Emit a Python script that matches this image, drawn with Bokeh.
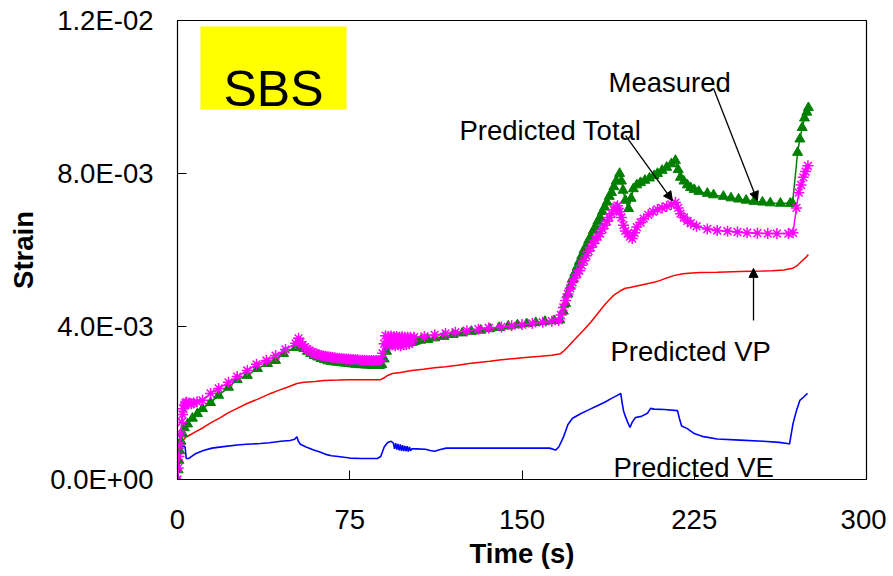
from bokeh.plotting import figure
from bokeh.models import (FixedTicker, CustomJSTickFormatter, Label, Arrow, NormalHead,
                          BoxAnnotation)
from bokeh.embed import file_html
from bokeh.resources import INLINE

# ---------------- data (time in s, strain) ----------------
measured_t = [0, 0.3, 0.6, 1.0, 1.5, 2.2, 3.0, 4.4, 6.5, 8.7, 10.9, 14.4, 17.9, 22.2, 26, 30.4,
              34.8, 39.2, 42.7, 46.2, 51.4, 52.5, 53.5, 55, 56.5, 58, 59.5, 61, 62.5, 64, 65.5,
              67, 68.5, 70, 71.5, 73, 74.5, 76, 77.5, 79, 80.5, 82, 83.5, 85, 86.5, 88, 89,
              90, 91, 92, 93, 94, 95, 96, 97, 98, 99, 100, 101, 102, 103, 104, 106, 109, 112,
              116, 120, 124, 128, 132, 136, 140, 144, 148, 152, 156, 160, 164, 166.5,
              168, 169, 170, 171, 172, 173, 174, 175, 176, 177, 178, 179, 180, 181, 182, 183,
              184, 185, 186, 187, 188, 189, 190, 191, 192.5, 193.3, 194, 195, 196.4, 197.5,
              198.5, 200, 201.6, 203.5, 205.5, 207.5, 209, 211, 213, 215, 216.8, 218, 219,
              220.5, 222, 223.4, 225, 227, 230.7, 233.4, 237.7, 241, 244.3, 247.6, 251,
              254.7, 258.1, 262.5, 266.8, 267.8, 270, 271, 272, 273, 274, 274.7]
measured_e = [0, 0.25, 0.5, 0.75, 1.0, 1.2, 1.35, 1.45, 1.6, 1.72, 1.85, 2.01, 2.20, 2.41, 2.61,
              2.72, 2.90, 3.03, 3.11, 3.29, 3.45, 3.55, 3.5, 3.42, 3.35, 3.29, 3.24, 3.2, 3.16,
              3.13, 3.1, 3.08, 3.07, 3.06, 3.05, 3.04, 3.03, 3.02, 3.01, 3.0, 3.0, 2.99, 2.99,
              2.98, 2.98, 2.98, 3.0, 3.15, 3.35, 3.52, 3.65, 3.6, 3.66, 3.58, 3.64, 3.57, 3.62,
              3.56, 3.6, 3.58, 3.6, 3.62, 3.64, 3.66, 3.70, 3.74, 3.79, 3.83, 3.87, 3.90,
              3.94, 3.97, 4.01, 4.04, 4.07, 4.10, 4.13, 4.15, 4.17,
              4.4, 4.6, 4.85, 5.05, 5.25, 5.4, 5.55, 5.7, 5.85, 6.0, 6.1, 6.25, 6.35, 6.5,
              6.6, 6.75, 6.85, 7.0, 7.12, 7.25, 7.4, 7.5, 7.65, 7.8, 8.0, 7.8, 7.56, 7.3, 7.08,
              7.35, 7.6, 7.7, 7.76, 7.82, 7.88, 7.94, 8.0, 8.08, 8.16, 8.25, 8.34, 8.1, 7.9,
              7.8, 7.7, 7.63, 7.58, 7.53, 7.48, 7.44, 7.4, 7.36, 7.33, 7.3, 7.27, 7.25, 7.23,
              7.22, 7.22, 7.22, 8.55, 8.9, 9.2, 9.45, 9.6, 9.72]
measured_e = [v * 1e-3 for v in measured_e]

total_t = [0, 0.3, 0.6, 1.0, 1.4, 1.8, 2.2, 2.6, 3.0, 3.5, 4.0, 5.0, 6.0, 7.0, 8.5, 10.9,
           14.4, 17.9, 22.2, 26, 30.4, 34.4, 38.7, 42.7, 47, 51.4, 52.7, 53.5, 54.5, 55.5,
           56.5, 57.5, 58.5, 59.5, 60.5, 61.5, 62.5, 63.5, 64.5, 65.5, 66.5, 67.5, 68.5, 69.5,
           70.5, 71.5, 72.5, 73.5, 74.5, 75.5, 76.5, 77.5, 78.5, 79.5, 80.5, 81.5, 82.5, 83.5,
           84.5, 85.5, 86.5, 87.5, 88.5, 89.3, 90, 90.6, 91.2, 91.8, 92.4, 93, 93.6, 94.2,
           94.8, 95.4, 96, 96.6, 97.2, 97.8, 98.4, 99, 99.6, 100.2, 100.8, 101.4, 102,
           103, 107.5, 112, 116.7, 121, 126, 131, 135.5, 141, 145.5, 150, 154.5, 159, 163,
           166, 167, 168, 169, 170, 171, 172, 173, 174, 175, 176, 177, 178, 179, 180, 181,
           182, 183, 184, 185, 186, 187, 188, 189, 190, 191, 191.6, 192.5, 193.3, 194.2,
           195, 196, 197, 198, 199, 200, 201.6, 203, 205, 207, 209, 211, 213, 215, 216.8,
           218, 219, 220.5, 222, 223.5, 226, 230.7, 235, 239.5, 243.8, 248, 252.5, 257, 261,
           266, 268, 269.5, 270.5, 271.5, 272.5, 273.5, 274.5]
total_e = [0, 0.3, 0.6, 0.9, 1.2, 1.5, 1.7, 1.85, 1.95, 2.0, 2.02, 2.0, 1.98, 2.0, 2.03, 2.07,
           2.25, 2.38, 2.54, 2.69, 2.85, 3.01, 3.11, 3.24, 3.40, 3.56, 3.69, 3.6, 3.52, 3.46,
           3.41, 3.37, 3.33, 3.30, 3.28, 3.26, 3.24, 3.23, 3.22, 3.21, 3.20, 3.19, 3.18, 3.17,
           3.17, 3.16, 3.16, 3.15, 3.15, 3.14, 3.14, 3.13, 3.13, 3.12, 3.12, 3.12, 3.11, 3.11,
           3.11, 3.11, 3.11, 3.11, 3.12, 3.3, 3.55, 3.76, 3.52, 3.74, 3.5, 3.75, 3.52, 3.73,
           3.5, 3.74, 3.52, 3.72, 3.5, 3.73, 3.52, 3.72, 3.53, 3.72, 3.55, 3.72, 3.6,
           3.72, 3.74, 3.78, 3.82, 3.85, 3.89, 3.93, 3.96, 3.99, 4.02, 4.05, 4.08, 4.11, 4.14,
           4.16, 4.3, 4.5, 4.68, 4.85, 5.0, 5.15, 5.27, 5.38, 5.46, 5.6, 5.72, 5.85, 5.97,
           6.07, 6.17, 6.26, 6.35, 6.43, 6.55, 6.65, 6.75, 6.85, 6.95, 7.05, 7.12, 7.16,
           7.0, 6.85, 6.65, 6.5, 6.43, 6.35, 6.3, 6.45, 6.6, 6.72, 6.82, 6.92, 7.0, 7.06,
           7.1, 7.14, 7.19, 7.24, 7.1, 6.95, 6.85, 6.76, 6.7, 6.62, 6.55, 6.51, 6.49, 6.47,
           6.45, 6.44, 6.43, 6.43, 6.43, 6.45, 7.1, 7.5, 7.7, 7.9, 8.05, 8.2]
total_e = [v * 1e-3 for v in total_e]

vp_t = [0, 0.5, 1, 2, 3.5, 5, 8, 11.3, 15, 18.7, 22, 26, 30, 35, 40.5, 44, 47.8, 52, 55, 60,
        63.6, 70, 75, 80, 88.4, 90, 91.5, 93.6, 97, 102, 107, 112, 116.7, 122, 127, 131, 136,
        141, 146, 151.5, 158, 163, 166.8, 168.5, 170, 172.4, 174.5, 176.8, 180, 182, 184,
        186, 188, 190, 193, 195, 197, 200, 203, 207, 210, 213, 216, 220, 224, 227.7, 235,
        245, 255, 259, 264, 267.8, 270, 272, 273.5, 274.7]
vp_e = [0, 0.4, 0.75, 1.0, 1.1, 1.15, 1.25, 1.36, 1.5, 1.62, 1.74, 1.86, 1.98, 2.1, 2.25, 2.33,
        2.41, 2.51, 2.54, 2.56, 2.59, 2.6, 2.61, 2.61, 2.61, 2.66, 2.72, 2.77, 2.8, 2.85, 2.88,
        2.92, 2.95, 2.99, 3.03, 3.06, 3.09, 3.13, 3.16, 3.19, 3.22, 3.25, 3.29, 3.38, 3.47,
        3.63, 3.76, 3.9, 4.12, 4.27, 4.42, 4.57, 4.7, 4.82, 4.94, 5.0, 5.02, 5.06, 5.1, 5.15,
        5.2, 5.27, 5.33, 5.38, 5.4, 5.41, 5.42, 5.44, 5.45, 5.46, 5.48, 5.52, 5.6, 5.72, 5.8,
        5.88]
vp_e = [v * 1e-3 for v in vp_e]

ve_t = [0, 0.5, 1, 1.5, 2.5, 3.3, 3.8, 5, 6, 8, 11.3, 15, 20, 26, 30, 36, 40, 45, 49, 51, 52,
        52.6, 53.5, 56, 59, 62, 65, 67, 70, 75, 80, 87, 88.5, 90, 91.5, 93, 94, 94.5, 95,
        95.5, 96, 96.5, 97, 97.5, 98, 98.5, 99, 99.5, 100, 100.5, 101, 101.5, 102, 104, 108,
        110, 112, 114, 117, 125, 140, 155, 162, 164.6, 166, 168, 170, 172, 175.5, 179, 182.8,
        186, 189, 191.5, 193, 193.6, 194.2, 195, 196, 197, 198, 199.4, 202, 204.6, 206,
        207.5, 212, 217.7, 218.5, 219.5, 222, 225, 229, 235, 245, 255, 262, 265.6, 266.5,
        268, 269.5, 271, 272.5, 274.3]
ve_e = [0, 0.4, 0.7, 0.85, 0.87, 0.85, 0.55, 0.55, 0.6, 0.68, 0.76, 0.82, 0.86, 0.9, 0.92,
        0.94, 0.96, 1.0, 1.02, 1.05, 1.12, 1.0, 0.92, 0.85, 0.78, 0.72, 0.65, 0.62, 0.6, 0.56,
        0.55, 0.55, 0.6, 0.85, 0.97, 1.0, 0.95, 0.8, 0.95, 0.78, 0.93, 0.76, 0.92, 0.75, 0.9,
        0.74, 0.88, 0.74, 0.87, 0.73, 0.85, 0.75, 0.8, 0.8, 0.79, 0.76, 0.74, 0.78, 0.82, 0.82,
        0.82, 0.82, 0.82, 0.77, 0.85, 1.1, 1.44, 1.6, 1.72, 1.82, 1.93, 2.02, 2.12, 2.2, 2.25,
        2.0, 1.8, 1.65, 1.5, 1.36, 1.5, 1.62, 1.65, 1.73, 1.86, 1.84, 1.83, 1.80, 1.6, 1.4,
        1.33, 1.2, 1.12, 1.06, 1.03, 1.0, 0.97, 0.94, 0.93, 1.46, 1.8, 2.07, 2.15, 2.25]
ve_e = [v * 1e-3 for v in ve_e]

x_ticks = [0, 75, 150, 225, 300]
y_ticks = [0, 0.004, 0.008, 0.012]

FONT = "Liberation Sans"
FS = "27.5px"

p = figure(frame_width=689, frame_height=459, x_range=(0, 300), y_range=(0, 0.012),
           output_backend="svg", toolbar_location=None,
           min_border_left=177, min_border_right=20, min_border_top=20, min_border_bottom=60)
p.background_fill_color = "white"
p.border_fill_color = "white"
p.outline_line_color = "black"
p.outline_line_width = 1.2
p.xgrid.visible = False
p.ygrid.visible = False

for ax in (p.xaxis[0], p.yaxis[0]):
    ax.major_tick_in = 9
    ax.major_tick_out = 0
    ax.minor_tick_line_color = None
    ax.axis_line_color = "black"
    ax.major_tick_line_color = "black"
    ax.major_label_text_font = FONT
    ax.major_label_text_font_size = FS
    ax.major_label_text_color = "black"
    ax.axis_label_text_font = FONT
    ax.axis_label_text_font_size = FS
    ax.axis_label_text_font_style = "bold"
    ax.axis_label_text_color = "black"

p.xaxis.ticker = FixedTicker(ticks=x_ticks)
p.yaxis.ticker = FixedTicker(ticks=y_ticks)
p.xaxis.major_label_standoff = 30
p.yaxis.major_label_standoff = 24
p.xaxis.axis_label = "Time (s)"
p.yaxis.axis_label = "Strain"
p.xaxis.axis_label_standoff = 6
p.yaxis.axis_label_standoff = 8
p.yaxis.formatter = CustomJSTickFormatter(code="""
var s = tick.toExponential(1).toUpperCase();
var parts = s.split("E");
var e = parseInt(parts[1]);
var sign = e < 0 ? "-" : "+";
var a = Math.abs(e);
return parts[0] + "E" + sign + (a < 10 ? "0" : "") + a;
""")

# yellow SBS box
p.add_layout(BoxAnnotation(left=10.0, right=73.6, bottom=0.00967, top=0.01184,
                           fill_color="#FFFF00", fill_alpha=1.0, line_color=None))
p.add_layout(Label(x=41.8, y=0.01022, text="SBS", text_align="center",
                   text_baseline="alphabetic", text_font=FONT, text_font_size="50px",
                   text_color="black"))

# curves
p.line(vp_t, vp_e, line_color="#FF0000", line_width=1.5)
p.line(ve_t, ve_e, line_color="#0000FF", line_width=1.6)
p.line(measured_t, measured_e, line_color="#008000", line_width=1.5)
p.scatter(measured_t, measured_e, marker="triangle", size=10, fill_color="#008000",
          line_color="#008000")
p.line(total_t, total_e, line_color="#FF00FF", line_width=1.5)
p.scatter(total_t, total_e, marker="asterisk", size=11, line_color="#FF00FF",
          line_width=1.5)

# annotations
for txt, x, y in [("Measured", 187.7, 0.01038), ("Predicted Total", 122.8, 0.00912),
                  ("Predicted VP", 188.5, 0.003346), ("Predicted VE", 189.8, 0.000314)]:
    p.add_layout(Label(x=x, y=y, text=txt, text_align="left", text_baseline="alphabetic",
                       text_font=FONT, text_font_size=FS, text_color="black"))

for xs, ys, xe, ye in [(233.4, 0.01022, 252.5, 0.00729), (195.1, 0.00899, 215.5, 0.00729),
                       (250.8, 0.00416, 250.8, 0.00552)]:
    p.add_layout(Arrow(end=NormalHead(size=9, fill_color="black", line_color="black"),
                       x_start=xs, y_start=ys, x_end=xe, y_end=ye,
                       line_color="black", line_width=1.3))

open("out.html", "w").write(file_html(p, INLINE))
